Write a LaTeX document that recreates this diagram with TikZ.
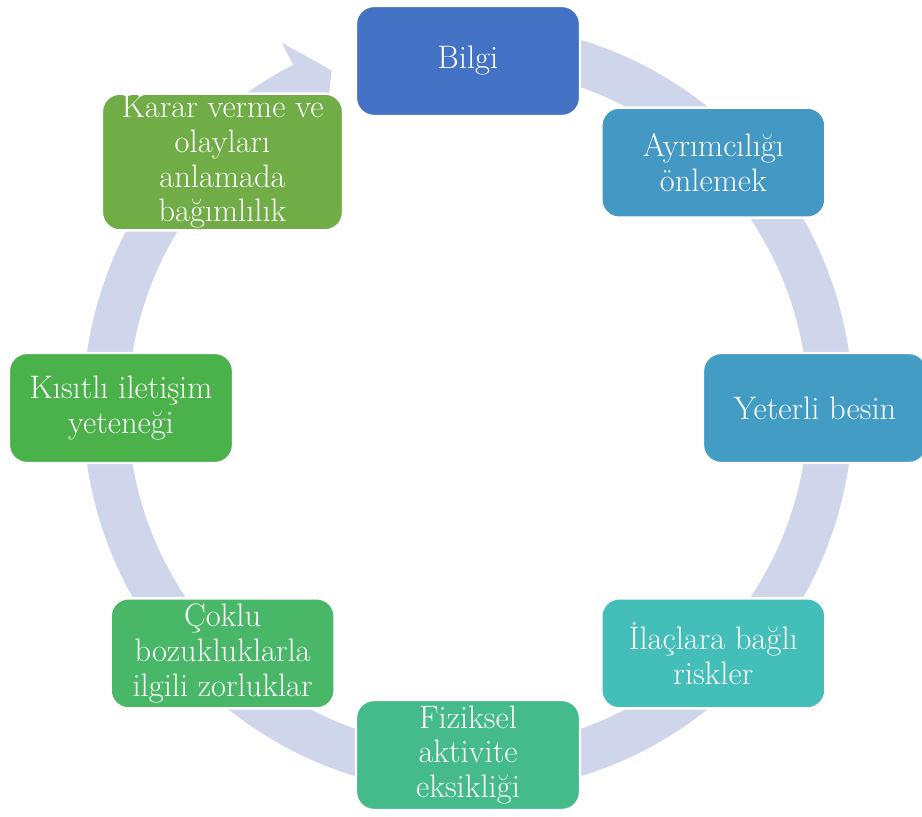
\documentclass[tikz,border=0pt]{standalone}
\usepackage{xcolor}
\usepackage{tikz}

\definecolor{arrowblue}{HTML}{CFD5EA}
\definecolor{boxA}{HTML}{4472C4}
\definecolor{boxB}{HTML}{4498C4}
\definecolor{boxC}{HTML}{439CC4}
\definecolor{boxD}{HTML}{44BEB9}
\definecolor{boxE}{HTML}{45BB8C}
\definecolor{boxF}{HTML}{48B767}
\definecolor{boxG}{HTML}{4BB14A}
\definecolor{boxH}{HTML}{70AD47}

\tikzset{
  stepbox/.style={rectangle, rounded corners=0.36cm, draw=white, line width=1.3pt,
    text=white, align=center, inner sep=1pt,
    minimum width=4.48cm, minimum height=2.2cm,
    font=\fontsize{18.5}{19.8}\selectfont},
  cyclearrow/.style={fill=arrowblue}
}

\begin{document}
\begin{tikzpicture}
\useasboundingbox (-9.36, -8.18) rectangle (9.08, 8.16);

% the circular arrow behind the boxes
\fill [cyclearrow] (90:7.7) arc [start angle=90, end angle=-243, radius=7.7cm]
    -- (-243:8.2) -- (-248:7.28) -- (-243:6.28) -- (-243:6.8)
    arc [start angle=-243, end angle=90, radius=6.8cm] -- cycle;

\node [stepbox, fill=boxA] (bilgi) at (90:6.94) {Bilgi};
\node [stepbox, fill=boxB] (ayrim) at (45:6.94) {Ayrımcılığı\\önlemek};
\node [stepbox, fill=boxC] (besin) at (0:6.94) {Yeterli besin};
\node [stepbox, fill=boxD] (ilac) at (-45:6.94) {İlaçlara bağlı\\riskler};
\node [stepbox, fill=boxE] (fiziksel) at (-90:6.94) {Fiziksel\\aktivite\\eksikliği};
\node [stepbox, fill=boxF] (coklu) at (-135:6.94) {Çoklu\\bozukluklarla\\ilgili zorluklar};
\node [stepbox, fill=boxG] (iletisim) at (180:6.94) {Kısıtlı iletişim\\yeteneği};
\node [stepbox, fill=boxH, minimum width=4.82cm, minimum height=2.6cm] (karar)
    at (-4.91, 4.92) {Karar verme ve\\olayları\\anlamada\\bağımlılık};
\end{tikzpicture}
\end{document}
